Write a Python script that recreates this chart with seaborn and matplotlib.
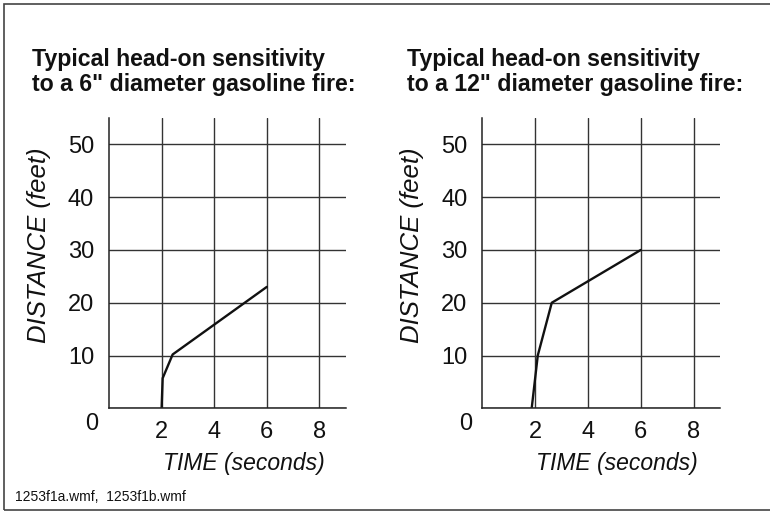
import pandas as pd
import matplotlib.pyplot as plt
import matplotlib.patches as patches
from matplotlib.transforms import ScaledTranslation
import seaborn as sns

# Data (time in seconds, distance in feet)
time_6in = [2.0, 2.04, 2.42, 6.0]
dist_6in = [0, 5.7, 10.2, 23.0]
time_12in = [1.87, 2.10, 2.63, 6.0]
dist_12in = [0, 10, 20, 30]

titles = ['Typical head-on sensitivity\nto a 6" diameter gasoline fire:',
          'Typical head-on sensitivity\nto a 12" diameter gasoline fire:']
x_ticks = [2, 4, 6, 8]
y_ticks = [0, 10, 20, 30, 40, 50]

sns.set_style("white")
plt.rcParams['font.family'] = ['Liberation Sans', 'DejaVu Sans']

fig = plt.figure(figsize=(7.7, 5.12), dpi=100)

W, H = 770, 512


def axes_rect(left_px, right_px, top_px, bottom_px):
    return [left_px / W, 1 - bottom_px / H, (right_px - left_px) / W, (bottom_px - top_px) / H]


panels = [
    dict(rect=axes_rect(109, 345.7, 118, 408.3), x=time_6in, y=dist_6in,
         title=titles[0], title_x=32, ylab_x=-0.295),
    dict(rect=axes_rect(482.3, 720, 118, 408.3), x=time_12in, y=dist_12in,
         title=titles[1], title_x=406.7, ylab_x=-0.295),
]

for p in panels:
    ax = fig.add_axes(p['rect'])
    df = pd.DataFrame({'time': p['x'], 'distance': p['y']})
    sns.lineplot(data=df, x='time', y='distance', sort=False, color='#111111',
                 linewidth=1.7, ax=ax)

    ax.set_xlim(0, 9)
    ax.set_ylim(0, 55)
    ax.set_xticks(x_ticks)
    ax.set_yticks(y_ticks)
    ax.set_xticklabels([str(t) for t in x_ticks], fontsize=17)
    ax.set_yticklabels([str(t) for t in y_ticks], fontsize=17)
    ax.tick_params(axis='both', length=0, colors='#111111')
    ax.tick_params(axis='x', pad=13 * 0.72)
    ax.tick_params(axis='y', pad=15 * 0.72)

    # move the "0" label to the corner, as in the original
    zero = ax.get_yticklabels()[0]
    zero.set_transform(zero.get_transform() +
                       ScaledTranslation(4.5 / 100, -13 / 100, fig.dpi_scale_trans))

    ax.grid(True, color='#333333', linewidth=1.0)
    for side in ['top', 'right']:
        ax.spines[side].set_visible(False)
    for side in ['left', 'bottom']:
        ax.spines[side].set_color('#222222')
        ax.spines[side].set_linewidth(1.1)

    ax.set_xlabel('TIME (seconds)', fontsize=16.5, fontstyle='italic', color='#111111')
    ax.set_ylabel('DISTANCE (feet)', fontsize=18.5, fontstyle='italic', color='#111111')
    ax.xaxis.set_label_coords(0.568, -0.19)
    ax.xaxis.label.set_va('center')
    ax.yaxis.set_label_coords(p['ylab_x'], 0.562)
    ax.yaxis.label.set_va('center')

    fig.text(p['title_x'] / W, 1 - 48 / H, p['title'], ha='left', va='top',
             fontsize=16.7, fontweight='bold', color='#111111', linespacing=1.1)

fig.text(15 / W, 1 - 497 / H, '1253f1a.wmf,  1253f1b.wmf', ha='left', va='center',
         fontsize=10, color='#111111')

# frame around the whole figure (right edge runs off the picture)
frame = patches.Rectangle((4 / W, 2 / H), 1.2, (508 - 2) / H, transform=fig.transFigure,
                          fill=False, edgecolor='#444444', linewidth=1.2, clip_on=False)
fig.patches.append(frame)

fig.savefig('out.png', dpi=100)
